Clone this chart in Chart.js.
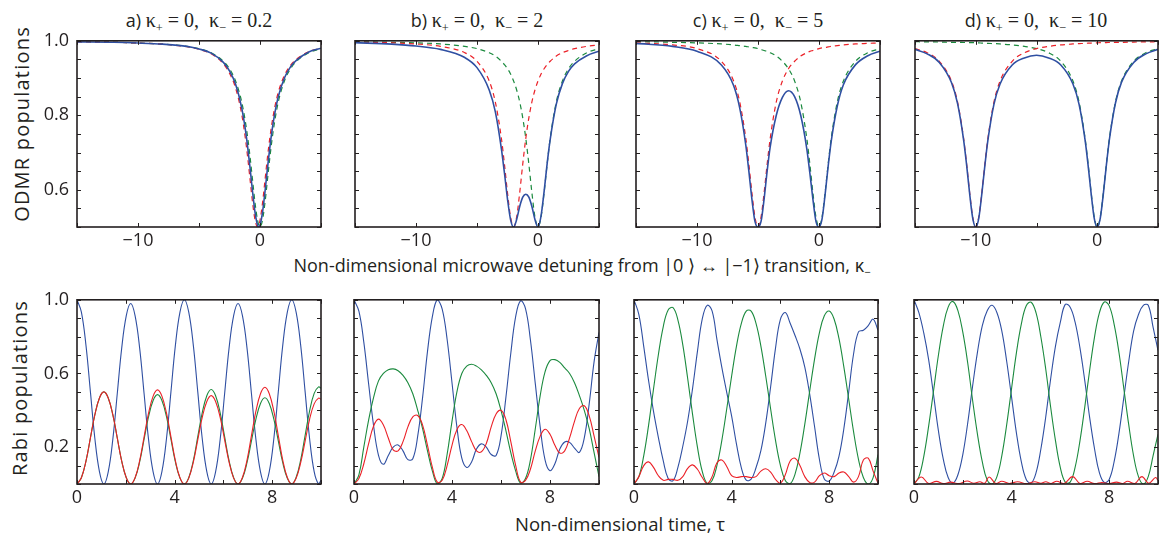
<!DOCTYPE html>
<html><head><meta charset="utf-8">
<script src="https://cdn.jsdelivr.net/npm/chart.js@4.4.0/dist/chart.umd.min.js"></script>
<style>
body{margin:0;width:1166px;height:536px;background:#fff;overflow:hidden;position:relative;font-family:'Open Sans',sans-serif;color:#231f20}
canvas{position:absolute}
.lbl{position:absolute;white-space:nowrap;transform:translate(-50%,-50%)}
.rot{position:absolute;white-space:nowrap;transform:translate(-50%,-50%) rotate(-90deg);font-size:20px;letter-spacing:1.2px}
.ttl{position:absolute;white-space:nowrap;transform:translate(-50%,-50%);font-size:18px}
.sf{font-family:'Liberation Serif',serif;font-size:20px}
sub{font-size:62%;vertical-align:-0.4em;line-height:0}
</style></head><body>
<div class="ttl" style="left:199px;top:20px"><span>a)</span> <span class="sf">κ<sub>+</sub> = 0,&nbsp; κ<sub>−</sub> = 0.2</span></div>
<div class="ttl" style="left:477px;top:20px"><span>b)</span> <span class="sf">κ<sub>+</sub> = 0,&nbsp; κ<sub>−</sub> = 2</span></div>
<div class="ttl" style="left:758px;top:20px"><span>c)</span> <span class="sf">κ<sub>+</sub> = 0,&nbsp; κ<sub>−</sub> = 5</span></div>
<div class="ttl" style="left:1036px;top:20px"><span>d)</span> <span class="sf">κ<sub>+</sub> = 0,&nbsp; κ<sub>−</sub> = 10</span></div>
<div class="rot" style="left:21px;top:124px">ODMR populations</div>
<div class="rot" style="left:19px;top:388px">Rabi populations</div>
<div class="lbl" style="left:582px;top:265px;font-size:18px">Non-dimensional microwave detuning from |0 ⟩ ↔ |−1⟩ transition, κ<sub>−</sub></div>
<div class="lbl" style="left:620px;top:523px;font-size:18.5px">Non-dimensional time, τ</div>

<canvas id="ta" width="299" height="235" style="left:32px;top:22px"></canvas>
<canvas id="tb" width="299" height="235" style="left:310px;top:22px"></canvas>
<canvas id="tc" width="299" height="235" style="left:591px;top:22px"></canvas>
<canvas id="td" width="298" height="235" style="left:870px;top:22px"></canvas>
<canvas id="ba" width="299" height="233" style="left:32px;top:281px"></canvas>
<canvas id="bb" width="300" height="233" style="left:309px;top:281px"></canvas>
<canvas id="bc" width="299" height="233" style="left:589px;top:281px"></canvas>
<canvas id="bd" width="299" height="233" style="left:869px;top:281px"></canvas>
<script>
// ---------- ODMR (top row) ----------
const detA = [-15,-12,-10,-8,-6,-5,-4,-3,-2.5,-2,-1.5,-1.2,-1,-0.8,-0.6,-0.4,-0.2,-0.1,0,0.2,0.4,0.6,0.8,1,1.2,1.5,2,2.5,3,4,5];
const odmrA_blue  = [0.997,0.996,0.994,0.991,0.985,0.978,0.967,0.942,0.919,0.883,0.82,0.762,0.712,0.654,0.592,0.538,0.505,0.5,0.505,0.538,0.592,0.654,0.712,0.762,0.803,0.85,0.9,0.93,0.948,0.97,0.98];
const odmrA_red   = [0.997,0.996,0.994,0.991,0.984,0.977,0.965,0.938,0.913,0.873,0.803,0.738,0.684,0.623,0.563,0.518,0.5,0.505,0.518,0.563,0.623,0.684,0.738,0.783,0.82,0.862,0.907,0.934,0.951,0.971,0.98];
const odmrA_green = [0.998,0.996,0.994,0.991,0.985,0.979,0.968,0.945,0.925,0.892,0.836,0.783,0.738,0.684,0.623,0.563,0.518,0.505,0.5,0.518,0.563,0.623,0.684,0.738,0.783,0.836,0.892,0.925,0.945,0.968,0.979];

const detB = [-15,-12,-10,-8,-6,-5,-4,-3.5,-3,-2.75,-2.5,-2.25,-2,-1.75,-1.5,-1.25,-1,-0.75,-0.5,-0.25,0,0.25,0.5,0.75,1,1.5,2,2.5,3,4,5];
const odmrB_blue  = [0.995,0.991,0.986,0.977,0.955,0.928,0.868,0.81,0.71,0.645,0.575,0.52,0.5,0.52,0.555,0.58,0.588,0.58,0.555,0.52,0.5,0.53,0.595,0.67,0.735,0.83,0.885,0.918,0.938,0.96,0.972];
const odmrB_red   = [0.9967,0.9945,0.9915,0.985,0.968,0.945,0.892,0.836,0.738,0.669,0.592,0.527,0.5,0.527,0.592,0.669,0.738,0.793,0.836,0.868,0.892,0.911,0.925,0.936,0.945,0.959,0.968,0.974,0.979,0.985,0.989];
const odmrB_green = [0.998,0.996,0.9945,0.9915,0.985,0.979,0.968,0.959,0.945,0.936,0.925,0.911,0.892,0.868,0.836,0.793,0.738,0.669,0.592,0.527,0.5,0.527,0.592,0.669,0.738,0.836,0.892,0.925,0.945,0.968,0.979];

const detC = [-15,-12,-10,-8,-7,-6.5,-6,-5.75,-5.5,-5.25,-5,-4.75,-4.5,-4.25,-4,-3.5,-3,-2.5,-2,-1.5,-1,-0.75,-0.5,-0.25,0,0.25,0.5,0.75,1,1.5,2,3,4,5];
const odmrC_blue  = [0.993,0.985,0.972,0.935,0.88,0.82,0.72,0.65,0.575,0.515,0.5,0.515,0.575,0.65,0.715,0.8,0.848,0.866,0.85,0.8,0.71,0.645,0.575,0.515,0.5,0.522,0.587,0.663,0.73,0.825,0.882,0.936,0.96,0.972];
const odmrC_red   = [0.9945,0.989,0.979,0.945,0.892,0.836,0.738,0.669,0.592,0.527,0.5,0.527,0.592,0.669,0.738,0.836,0.892,0.925,0.945,0.959,0.968,0.9715,0.974,0.9765,0.979,0.981,0.982,0.9835,0.985,0.987,0.989,0.9915,0.993,0.9945];
const odmrC_green = [0.998,0.996,0.9945,0.9915,0.989,0.987,0.985,0.9835,0.982,0.981,0.979,0.9765,0.974,0.9715,0.968,0.959,0.945,0.925,0.892,0.836,0.738,0.669,0.592,0.527,0.5,0.527,0.592,0.669,0.738,0.836,0.892,0.945,0.968,0.979];

const detD = [-15,-14,-13,-12,-11.5,-11,-10.75,-10.5,-10.25,-10,-9.75,-9.5,-9.25,-9,-8.5,-8,-7,-6,-5,-4,-3,-2,-1.5,-1,-0.75,-0.5,-0.25,0,0.25,0.5,0.75,1,1.5,2,3,4,5];
const odmrD_blue  = [0.977,0.965,0.942,0.888,0.832,0.734,0.666,0.589,0.524,0.5,0.524,0.589,0.665,0.733,0.83,0.884,0.935,0.954,0.961,0.954,0.935,0.884,0.83,0.733,0.665,0.589,0.524,0.5,0.524,0.589,0.666,0.735,0.833,0.889,0.942,0.965,0.977];
const odmrD_red   = [0.979,0.968,0.945,0.892,0.836,0.738,0.669,0.592,0.527,0.5,0.527,0.592,0.669,0.738,0.836,0.892,0.945,0.968,0.979,0.985,0.989,0.9915,0.9925,0.993,0.9937,0.994,0.9943,0.9945,0.995,0.995,0.9953,0.9955,0.996,0.996,0.9967,0.997,0.9976];
const odmrD_green = [0.9976,0.997,0.9967,0.996,0.996,0.9955,0.9953,0.995,0.995,0.9945,0.9943,0.994,0.9937,0.993,0.9925,0.9915,0.989,0.985,0.979,0.968,0.945,0.892,0.836,0.738,0.669,0.592,0.527,0.5,0.527,0.592,0.669,0.738,0.836,0.892,0.945,0.968,0.979];

// ---------- Rabi (bottom row) ----------
const timeA = [0,0.18,0.37,0.55,0.73,0.92,1.1,1.28,1.47,1.65,1.83,2.02,2.2,2.38,2.57,2.75,2.93,3.12,3.3,3.48,3.67,3.85,4.03,4.22,4.4,4.58,4.77,4.95,5.13,5.32,5.5,5.68,5.87,6.05,6.23,6.42,6.6,6.78,6.97,7.15,7.33,7.52,7.7,7.88,8.07,8.25,8.43,8.62,8.8,8.98,9.17,9.35,9.53,9.72,9.9,10];
const rabiA_blue  = [1,0.933,0.75,0.5,0.25,0.067,0,0.066,0.245,0.49,0.735,0.914,0.98,0.914,0.735,0.49,0.245,0.066,0,0.067,0.25,0.5,0.75,0.933,1,0.933,0.75,0.5,0.25,0.067,0,0.066,0.245,0.49,0.735,0.914,0.98,0.914,0.735,0.49,0.245,0.066,0,0.067,0.25,0.5,0.75,0.933,1,0.933,0.75,0.5,0.25,0.067,0,0.02];
const rabiA_green = [0,0.034,0.125,0.25,0.375,0.467,0.5,0.467,0.375,0.25,0.125,0.034,0,0.032,0.121,0.243,0.364,0.453,0.485,0.453,0.364,0.243,0.121,0.032,0,0.034,0.128,0.257,0.385,0.479,0.513,0.479,0.385,0.257,0.128,0.034,0,0.031,0.117,0.234,0.351,0.437,0.468,0.437,0.351,0.234,0.117,0.031,0,0.035,0.132,0.264,0.395,0.492,0.527,0.52];
const rabiA_red   = [0,0.034,0.125,0.25,0.375,0.467,0.5,0.467,0.375,0.25,0.125,0.034,0,0.034,0.128,0.256,0.383,0.477,0.511,0.477,0.383,0.256,0.128,0.034,0,0.032,0.12,0.24,0.36,0.448,0.48,0.448,0.36,0.24,0.12,0.032,0,0.035,0.131,0.263,0.394,0.49,0.525,0.49,0.394,0.263,0.131,0.035,0,0.031,0.117,0.233,0.35,0.435,0.466,0.46];

const timeStep = [0,0.2,0.4,0.6,0.8,1,1.2,1.4,1.6,1.8,2,2.2,2.4,2.6,2.8,3,3.2,3.4,3.6,3.8,4,4.2,4.4,4.6,4.8,5,5.2,5.4,5.6,5.8,6,6.2,6.4,6.6,6.8,7,7.2,7.4,7.6,7.8,8,8.2,8.4,8.6,8.8,9,9.2,9.4,9.6,9.8,10];
const rabiB_blue  = [1,0.938,0.77,0.54,0.316,0.156,0.107,0.155,0.2,0.212,0.18,0.132,0.137,0.26,0.47,0.72,0.91,1,0.95,0.786,0.55,0.31,0.14,0.09,0.12,0.19,0.218,0.2,0.16,0.155,0.26,0.47,0.71,0.91,0.995,0.952,0.783,0.545,0.309,0.13,0.072,0.11,0.19,0.228,0.226,0.195,0.172,0.25,0.435,0.664,0.823];
const rabiB_green = [0,0.05,0.2,0.35,0.47,0.56,0.6,0.62,0.625,0.615,0.59,0.55,0.49,0.4,0.3,0.18,0.07,0,0.03,0.16,0.34,0.5,0.6,0.64,0.65,0.64,0.62,0.59,0.55,0.49,0.4,0.29,0.17,0.07,0.005,0.03,0.13,0.3,0.48,0.61,0.67,0.675,0.66,0.63,0.6,0.55,0.48,0.4,0.3,0.17,0.04];
const rabiB_red   = [0,0.03,0.11,0.22,0.315,0.352,0.32,0.25,0.185,0.18,0.23,0.31,0.365,0.372,0.32,0.21,0.09,0.01,0.02,0.1,0.21,0.295,0.323,0.29,0.23,0.18,0.175,0.22,0.31,0.38,0.4,0.35,0.23,0.1,0.01,0.02,0.08,0.18,0.26,0.297,0.27,0.21,0.168,0.18,0.25,0.34,0.41,0.425,0.37,0.26,0.144];

const rabiC_blue  = [1,0.92,0.746,0.559,0.394,0.252,0.125,0.03,0.018,0.09,0.205,0.342,0.518,0.72,0.898,0.97,0.94,0.784,0.633,0.498,0.37,0.216,0.088,0.021,0.026,0.088,0.181,0.332,0.528,0.738,0.894,0.931,0.873,0.806,0.733,0.635,0.488,0.312,0.133,0.027,0.016,0.064,0.15,0.3,0.5,0.707,0.826,0.835,0.86,0.895,0.835];
const rabiC_green = [0,0.04,0.154,0.321,0.516,0.703,0.855,0.945,0.957,0.89,0.755,0.573,0.378,0.2,0.067,0.003,0.019,0.101,0.237,0.407,0.585,0.749,0.872,0.939,0.939,0.872,0.749,0.585,0.407,0.237,0.101,0.019,0.002,0.054,0.167,0.325,0.504,0.678,0.822,0.913,0.939,0.896,0.79,0.636,0.46,0.283,0.134,0.035,0,0.035,0.16];
const rabiC_red   = [0,0.04,0.1,0.12,0.09,0.045,0.02,0.025,0.025,0.02,0.04,0.085,0.104,0.08,0.035,0.003,0.04,0.115,0.13,0.095,0.045,0.035,0.04,0.04,0.035,0.04,0.07,0.083,0.065,0.025,0.005,0.05,0.125,0.14,0.1,0.04,0.008,0.01,0.045,0.06,0.045,0.04,0.06,0.065,0.04,0.01,0.04,0.13,0.14,0.07,0.005];

const rabiD_blue  = [1,0.93,0.82,0.675,0.485,0.29,0.135,0.035,0.005,0.05,0.16,0.33,0.53,0.715,0.86,0.94,0.97,0.93,0.83,0.665,0.47,0.275,0.12,0.025,0.005,0.06,0.19,0.365,0.57,0.75,0.88,0.975,0.96,0.88,0.74,0.56,0.36,0.19,0.06,0.008,0.025,0.12,0.275,0.47,0.665,0.83,0.92,0.97,0.97,0.85,0.725];
const rabiD_green = [0,0.039,0.149,0.314,0.505,0.699,0.857,0.96,0.99,0.941,0.824,0.658,0.456,0.271,0.12,0.022,0,0.04,0.154,0.323,0.52,0.715,0.869,0.968,0.987,0.93,0.798,0.623,0.418,0.234,0.088,0.01,0.01,0.089,0.233,0.419,0.619,0.799,0.93,0.988,0.967,0.868,0.714,0.518,0.322,0.153,0.04,0,0.04,0.154,0.27];
const timeRedD    = [0,0.3,0.6,0.92,1.2,1.5,1.85,2.18,2.45,2.7,2.9,3.08,3.35,3.6,3.9,4.25,4.6,4.95,5.2,5.4,5.62,5.85,6.15,6.5,6.8,7.1,7.4,7.7,8,8.3,8.55,8.75,9.05,9.34,9.62,9.9,10];
const rabiD_red   = [0,0.038,0.003,0.014,0.002,0.01,0.002,0.016,0.004,0.012,0.004,0.038,0.003,0.015,0.003,0.012,0.002,0.012,0.004,0.012,0.003,0.015,0.003,0.04,0.003,0.015,0.002,0.008,0.002,0.01,0.003,0.015,0.003,0.04,0.004,0.035,0.02];

// ---------- tick labels ----------
const detTickLabels = [-10, 0];
const odmrTickLabels = [0.6, 0.8, 1.0];
const timeTickLabels = [0, 4, 8];
const rabiTickLabels = [0.2, 0.6, 1.0];

const BLUE = '#2f4fa2', GREEN = '#1b8a3e', RED = '#eb2027', INK = '#231f20';
const FONT = "'Open Sans', sans-serif";

const pts = (xs, ys) => xs.map((x, i) => ({x, y: ys[i]}));
const has = (arr, v) => arr.some(a => Math.abs(a - v) < 1e-6);
const fmtInt = v => v < 0 ? '\u2212' + Math.abs(Math.round(v)) : String(Math.round(v));
const fmtDec = v => v.toFixed(1);

const frameTicks = {
  id: 'frameTicks',
  afterDatasetsDraw(chart) {
    const {ctx, chartArea: a, scales: {x, y}} = chart;
    ctx.save();
    ctx.strokeStyle = INK;
    ctx.lineWidth = 1;
    const L = 4;
    ctx.beginPath();
    x.ticks.forEach(t => {
      const p = Math.round(x.getPixelForValue(t.value)) + 0.5;
      ctx.moveTo(p, a.bottom); ctx.lineTo(p, a.bottom - L);
      ctx.moveTo(p, a.top); ctx.lineTo(p, a.top + L);
    });
    y.ticks.forEach(t => {
      const p = Math.round(y.getPixelForValue(t.value)) + 0.5;
      ctx.moveTo(a.left, p); ctx.lineTo(a.left + L, p);
      ctx.moveTo(a.right, p); ctx.lineTo(a.right - L, p);
    });
    ctx.stroke();
    ctx.lineWidth = 1.6;
    ctx.strokeRect(a.left, a.top, a.right - a.left, a.bottom - a.top);
    ctx.restore();
  }
};

function makeChart(id, datasets, xr, yr, showY) {
  new Chart(document.getElementById(id), {
    type: 'line',
    data: {datasets},
    options: {
      responsive: false, animation: false, devicePixelRatio: 1,
      layout: {padding: {left: 0, right: 10, top: 12, bottom: 0}},
      plugins: {legend: {display: false}, tooltip: {enabled: false}},
      elements: {point: {radius: 0}},
      scales: {
        x: {type: 'linear', min: xr.min, max: xr.max,
            grid: {display: false, drawTicks: false}, border: {display: false},
            ticks: {stepSize: xr.step, autoSkip: false, maxRotation: 0, padding: 3, color: INK,
                    font: {family: FONT, size: 18},
                    callback: v => has(xr.labels, v) ? fmtInt(v) : ''},
            afterFit: s => { s.height = 30; }},
        y: {type: 'linear', min: yr.min, max: yr.max,
            grid: {display: false, drawTicks: false}, border: {display: false},
            ticks: {stepSize: yr.step, autoSkip: false, padding: 8, color: INK,
                    font: {family: FONT, size: 18},
                    callback: v => (showY && has(yr.labels, v)) ? fmtDec(v) : ''},
            afterFit: s => { s.width = 45; }}
      }
    },
    plugins: [frameTicks]
  });
}

const detAxis = {min: -15, max: 5, step: 5, labels: detTickLabels};
const odmrAxis = {min: 0.5, max: 1.0, step: 0.05, labels: odmrTickLabels};
const timeAxis = {min: 0, max: 10, step: 2, labels: timeTickLabels};
const rabiAxis = {min: 0, max: 1.0, step: 0.1, labels: rabiTickLabels};

function odmrSets(xs, b, r, g) {
  return [
    {data: pts(xs, b), borderColor: BLUE, borderWidth: 1.6, cubicInterpolationMode: 'monotone'},
    {data: pts(xs, r), borderColor: RED, borderWidth: 1.2, borderDash: [5, 4], cubicInterpolationMode: 'monotone'},
    {data: pts(xs, g), borderColor: GREEN, borderWidth: 1.2, borderDash: [5, 4], cubicInterpolationMode: 'monotone'}
  ];
}
function rabiSets(xs, b, g, r, xr) {
  return [
    {data: pts(xr || xs, r), borderColor: RED, borderWidth: 1.1, tension: 0.4},
    {data: pts(xs, g), borderColor: GREEN, borderWidth: 1.1, tension: 0.4},
    {data: pts(xs, b), borderColor: BLUE, borderWidth: 1.1, tension: 0.4}
  ];
}

makeChart('ta', odmrSets(detA, odmrA_blue, odmrA_red, odmrA_green), detAxis, odmrAxis, true);
makeChart('tb', odmrSets(detB, odmrB_blue, odmrB_red, odmrB_green), detAxis, odmrAxis, false);
makeChart('tc', odmrSets(detC, odmrC_blue, odmrC_red, odmrC_green), detAxis, odmrAxis, false);
makeChart('td', odmrSets(detD, odmrD_blue, odmrD_red, odmrD_green), detAxis, odmrAxis, false);
makeChart('ba', rabiSets(timeA, rabiA_blue, rabiA_green, rabiA_red), timeAxis, rabiAxis, true);
makeChart('bb', rabiSets(timeStep, rabiB_blue, rabiB_green, rabiB_red), timeAxis, rabiAxis, false);
makeChart('bc', rabiSets(timeStep, rabiC_blue, rabiC_green, rabiC_red), timeAxis, rabiAxis, false);
makeChart('bd', rabiSets(timeStep, rabiD_blue, rabiD_green, rabiD_red, timeRedD), timeAxis, rabiAxis, false);
</script>
</body></html>
